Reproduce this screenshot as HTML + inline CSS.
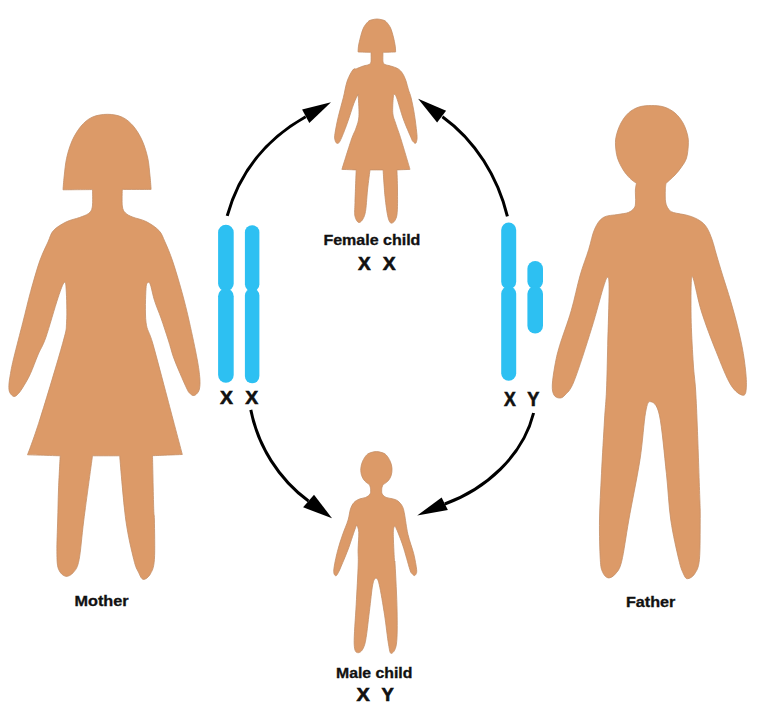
<!DOCTYPE html>
<html><head><meta charset="utf-8"><style>
html,body{margin:0;padding:0;background:#fff;}
svg{display:block;}
text{font-family:"Liberation Sans",sans-serif;font-weight:bold;fill:#111;}
</style></head><body>
<svg width="757" height="720" viewBox="0 0 757 720">
<rect width="757" height="720" fill="#fff"/>
<g fill="#DC9A68" stroke="#C48E66" stroke-width="0.8">
<path d="M107.5 114.3C112.5 114.3 117.9 115.2 122.2 117.2C126.5 119.2 130.0 122.2 133.3 126.1C136.6 130.0 139.8 135.2 142.2 140.6C144.6 146.0 146.5 152.4 147.8 158.3C149.1 164.2 149.4 170.9 150.0 176.1C150.6 181.3 151.1 189.4 151.1 189.4C151.1 189.4 122.3 189.4 122.3 189.4C122.3 189.4 121.8 202.1 122.3 206.0C122.8 209.9 123.7 211.1 125.5 213.0C127.3 214.9 129.6 215.8 133.0 217.2C136.4 218.6 141.7 219.3 146.0 221.5C150.3 223.7 155.7 227.1 158.9 230.5C162.1 233.9 162.7 236.9 165.0 242.0C167.3 247.1 169.8 252.8 172.6 261.1C175.4 269.4 179.0 281.5 181.8 291.7C184.6 301.9 186.9 311.0 189.4 322.2C191.9 333.4 195.4 349.6 197.1 358.9C198.8 368.2 199.4 373.0 199.8 378.0C200.2 383.0 200.0 386.3 199.4 389.0C198.8 391.7 197.6 392.9 196.5 394.0C195.4 395.1 194.2 395.7 193.0 395.5C191.8 395.3 190.5 394.1 189.5 393.0C188.5 391.9 188.6 392.3 187.0 389.0C185.4 385.7 182.3 378.7 180.0 373.3C177.7 367.9 175.2 362.2 173.3 356.7C171.4 351.1 170.4 346.4 168.3 340.0C166.2 333.6 163.3 324.5 161.0 318.0C158.7 311.5 156.3 306.3 154.6 300.8C152.8 295.3 151.6 288.1 150.5 285.0C149.4 281.9 148.9 281.9 148.2 282.5C147.4 283.1 146.4 282.0 146.0 288.6C145.6 295.2 144.9 313.0 146.0 322.2C147.1 331.4 149.2 330.8 152.8 343.6C156.4 356.4 162.7 380.5 167.6 399.0C172.5 417.5 182.3 454.5 182.3 454.5C182.3 454.5 152.5 455.7 152.5 455.7C152.5 455.7 153.4 497.6 153.7 508.3C154.0 519.0 154.3 511.4 154.4 520.0C154.5 528.5 155.1 550.6 154.4 559.6C153.7 568.6 152.2 570.6 150.4 573.9C148.6 577.2 145.3 579.7 143.3 579.4C141.3 579.1 140.1 575.6 138.5 572.3C136.9 569.0 135.9 568.3 133.8 559.6C131.7 550.9 128.2 537.3 125.8 520.0C123.4 502.7 119.7 455.8 119.7 455.8C119.7 455.8 92.5 455.8 92.5 455.8C92.5 455.8 86.0 502.7 83.8 520.0C81.6 537.3 80.8 550.9 79.1 559.6C77.4 568.3 75.8 569.5 73.5 572.3C71.2 575.1 68.1 576.8 65.6 576.3C63.1 575.8 60.0 573.2 58.5 569.1C57.0 565.0 57.0 559.9 56.9 551.7C56.8 543.5 57.4 530.3 57.7 520.0C58.0 509.7 58.1 500.7 58.5 490.0C58.9 479.3 60.2 455.8 60.2 455.8C60.2 455.8 27.5 454.8 27.5 454.8C27.5 454.8 33.9 438.5 39.7 420.0C45.6 401.5 58.1 359.9 62.6 343.6C67.1 327.3 66.0 330.9 66.6 322.0C67.2 313.1 66.6 296.6 66.2 290.0C65.8 283.4 65.6 281.2 64.2 282.5C62.8 283.8 61.1 288.6 58.0 297.8C54.9 307.0 49.1 328.0 45.8 337.5C42.4 347.0 40.4 349.0 37.9 355.0C35.4 361.0 32.8 368.4 30.5 373.5C28.2 378.6 26.0 382.2 24.0 385.5C22.0 388.8 20.2 391.7 18.5 393.5C16.8 395.3 15.3 396.7 13.9 396.5C12.5 396.3 10.6 394.3 9.8 392.5C9.0 390.7 8.8 388.7 8.9 385.5C9.0 382.3 9.7 378.2 10.5 373.5C11.3 368.8 11.9 365.6 14.0 357.0C16.1 348.4 20.1 333.1 22.9 322.2C25.7 311.3 27.8 301.9 30.6 291.7C33.4 281.5 36.8 269.4 39.7 261.1C42.6 252.8 45.7 247.1 48.0 242.0C50.3 236.9 50.5 233.8 53.5 230.5C56.5 227.2 61.7 224.2 66.0 222.0C70.3 219.8 75.8 218.9 79.5 217.5C83.2 216.1 86.4 215.2 88.5 213.5C90.6 211.8 91.6 211.0 92.3 207.0C93.0 203.0 92.5 189.6 92.5 189.6C92.5 189.6 63.0 189.8 63.0 189.8C63.0 189.8 63.6 181.3 64.2 176.1C64.8 170.8 65.3 164.2 66.6 158.3C67.9 152.4 69.8 146.0 72.2 140.6C74.6 135.2 77.8 130.0 81.1 126.1C84.4 122.2 87.8 119.2 92.2 117.2C96.6 115.2 102.5 114.3 107.5 114.3Z"/>
<path d="M651.5 105.6C655.7 105.6 660.1 105.8 664.0 107.0C667.9 108.2 671.8 110.3 675.0 113.0C678.2 115.7 680.9 119.3 683.0 123.0C685.1 126.7 686.6 131.3 687.5 135.0C688.4 138.7 688.5 141.2 688.3 145.0C688.1 148.8 687.6 154.4 686.5 158.0C685.4 161.6 683.6 163.9 681.7 166.7C679.8 169.5 677.6 172.2 675.0 175.0C672.4 177.8 666.0 183.3 666.0 183.3C666.0 183.3 665.4 186.9 665.3 190.0C665.2 193.1 665.1 198.8 665.6 202.0C666.1 205.2 667.2 207.2 668.5 209.0C669.8 210.8 670.1 211.4 673.5 212.5C676.9 213.6 684.2 214.3 688.6 215.7C693.0 217.0 696.7 218.6 699.7 220.6C702.7 222.6 704.6 224.3 706.7 227.5C708.8 230.7 710.6 235.4 712.2 240.0C713.8 244.6 714.8 249.2 716.5 255.0C718.2 260.8 720.1 267.2 722.5 275.0C724.9 282.8 728.0 292.0 730.8 301.6C733.6 311.2 736.9 323.2 739.1 332.9C741.4 342.6 743.1 351.3 744.3 360.0C745.5 368.7 746.6 379.0 746.4 384.9C746.2 390.8 745.9 395.3 743.3 395.3C740.7 395.3 735.3 392.2 730.8 384.9C726.3 377.6 721.1 363.8 716.2 351.6C711.3 339.5 705.4 324.1 701.6 312.0C697.8 299.9 695.0 283.4 693.3 278.7C691.6 274.0 691.6 276.7 691.2 284.0C690.9 291.3 690.9 309.1 691.2 322.4C691.6 335.7 692.6 352.7 693.3 364.0C694.0 375.3 694.9 378.7 695.6 390.0C696.3 401.3 696.8 413.2 697.5 431.7C698.2 450.2 699.4 486.3 699.9 501.0C700.4 515.7 700.3 510.2 700.2 520.0C700.1 529.8 700.3 550.6 699.4 559.6C698.5 568.6 696.6 570.7 694.6 573.9C692.6 577.1 689.4 578.7 687.5 578.7C685.6 578.7 685.0 577.1 683.5 573.9C682.0 570.7 680.9 568.6 678.8 559.6C676.7 550.6 672.9 534.4 670.8 520.0C668.7 505.6 668.3 490.8 666.4 473.3C664.5 455.8 662.0 426.9 659.4 415.0C656.8 403.1 652.9 402.2 650.6 401.7C648.3 401.2 647.4 402.6 645.6 412.2C643.8 421.8 642.8 441.4 640.0 459.4C637.2 477.4 631.8 503.0 628.8 520.0C625.8 537.0 623.9 552.2 621.7 561.2C619.5 570.2 617.6 571.1 615.4 573.9C613.1 576.7 610.3 578.2 608.2 577.9C606.1 577.6 604.0 575.3 602.7 572.3C601.4 569.2 600.8 568.3 600.3 559.6C599.8 550.9 599.3 534.4 599.5 520.0C599.7 505.6 600.7 490.0 601.5 473.3C602.3 456.6 603.7 433.9 604.5 420.0C605.3 406.1 606.0 402.4 606.5 390.0C607.0 377.6 607.3 362.5 607.7 345.8C608.1 329.1 609.1 301.4 609.1 290.0C609.1 278.6 608.7 277.7 607.7 277.3C606.7 276.9 606.0 279.0 603.3 287.5C600.6 296.0 596.5 312.8 591.6 328.3C586.8 343.9 578.6 369.7 574.2 380.8C569.8 391.9 567.5 392.1 565.0 395.0C562.5 397.9 561.3 398.0 559.5 398.0C557.7 398.0 555.2 397.2 554.0 395.0C552.8 392.8 552.1 390.0 552.3 385.0C552.5 380.0 553.8 371.5 555.0 365.0C556.2 358.5 556.9 354.8 559.6 345.8C562.3 336.8 567.8 322.5 571.2 310.8C574.6 299.1 577.1 286.0 580.0 275.8C582.9 265.6 586.3 257.4 588.7 249.6C591.1 241.8 592.2 234.5 594.6 229.2C597.0 223.8 599.4 219.9 603.3 217.5C607.2 215.1 613.7 215.3 617.9 214.5C622.1 213.7 625.6 213.6 628.3 212.5C631.0 211.4 633.0 209.8 634.2 208.0C635.4 206.2 635.4 205.0 635.6 202.0C635.8 199.0 635.2 193.1 635.4 190.0C635.5 186.9 636.5 183.3 636.5 183.3C636.5 183.3 632.2 180.5 630.0 178.3C627.8 176.1 625.4 173.4 623.3 170.0C621.2 166.6 618.8 162.2 617.5 158.0C616.2 153.8 615.7 148.8 615.5 145.0C615.3 141.2 615.6 138.7 616.5 135.0C617.4 131.3 619.0 126.7 621.0 123.0C623.0 119.3 625.5 115.7 628.5 113.0C631.5 110.3 635.2 108.2 639.0 107.0C642.8 105.8 647.3 105.6 651.5 105.6Z"/>
<path d="M377.0 19.0C378.7 19.0 380.5 19.4 382.0 19.8C383.5 20.2 384.7 20.3 386.1 21.7C387.5 23.1 389.4 25.5 390.6 28.1C391.8 30.7 392.6 34.1 393.4 37.1C394.2 40.1 394.8 43.6 395.2 46.1C395.6 48.6 395.6 52.0 395.6 52.0C395.6 52.0 383.0 52.3 383.0 52.3C383.0 52.3 382.7 59.5 383.0 61.5C383.3 63.5 383.7 63.8 385.0 64.5C386.3 65.2 388.5 65.3 390.6 66.0C392.8 66.7 395.9 67.5 397.9 68.7C399.9 69.9 401.0 71.2 402.4 73.2C403.8 75.2 405.0 78.2 406.0 81.0C407.0 83.8 407.6 87.2 408.5 90.0C409.4 92.8 410.1 93.7 411.1 97.8C412.1 101.9 413.5 108.7 414.4 114.4C415.3 120.1 416.3 128.1 416.7 132.2C417.1 136.3 417.2 137.2 417.0 139.0C416.8 140.8 416.3 142.9 415.6 143.3C414.9 143.7 413.8 142.4 413.0 141.5C412.2 140.6 412.7 141.6 411.1 137.8C409.5 134.0 405.7 125.6 403.3 118.9C400.9 112.2 398.2 101.9 396.7 97.8C395.2 93.7 395.0 94.5 394.4 94.4C393.8 94.3 393.6 93.8 393.3 97.0C393.0 100.2 392.4 108.9 392.8 113.3C393.2 117.7 394.2 118.8 395.6 123.3C397.0 127.8 398.9 132.3 401.2 140.0C403.6 147.7 410.0 169.4 410.0 169.4C410.0 169.4 396.9 169.9 396.9 169.9C396.9 169.9 397.5 182.5 397.5 190.0C397.5 197.5 397.8 209.5 396.9 215.0C396.0 220.5 393.4 222.7 391.9 223.1C390.4 223.5 389.2 222.0 388.1 217.5C387.0 213.0 385.8 204.2 385.0 196.2C384.2 188.3 383.1 169.9 383.1 169.9C383.1 169.9 370.0 169.9 370.0 169.9C370.0 169.9 368.3 182.7 367.5 190.0C366.7 197.3 366.4 208.3 365.0 213.8C363.6 219.2 361.1 222.1 359.4 222.5C357.7 222.9 355.7 219.6 355.0 216.2C354.3 212.9 354.8 210.2 355.0 202.5C355.2 194.8 356.2 169.9 356.2 169.9C356.2 169.9 341.9 169.4 341.9 169.4C341.9 169.4 348.9 146.9 351.2 140.0C353.6 133.1 354.8 131.9 356.1 128.0C357.4 124.1 358.5 121.9 358.9 116.7C359.3 111.5 358.5 100.6 358.3 97.0C358.1 93.4 358.5 94.0 357.8 95.0C357.1 96.0 355.7 98.6 353.9 103.3C352.1 108.0 349.5 117.0 347.2 123.3C344.9 129.6 341.8 137.8 340.0 141.1C338.2 144.4 337.4 143.3 336.5 143.0C335.6 142.7 335.1 140.6 334.8 139.0C334.6 137.4 334.4 137.0 335.0 133.3C335.6 129.6 336.9 122.6 338.3 116.7C339.7 110.8 341.8 103.7 343.3 97.8C344.8 91.9 345.6 85.7 347.2 81.1C348.8 76.5 351.2 72.1 352.8 70.0C354.4 67.9 354.7 69.4 356.5 68.7C358.3 68.0 361.3 66.7 363.4 66.0C365.5 65.3 367.7 65.2 369.0 64.5C370.3 63.8 370.7 63.5 371.0 61.5C371.3 59.5 371.0 52.3 371.0 52.3C371.0 52.3 358.1 52.0 358.1 52.0C358.1 52.0 358.1 48.6 358.5 46.1C358.9 43.6 359.7 40.1 360.5 37.1C361.3 34.1 362.1 30.7 363.4 28.1C364.6 25.5 366.6 23.1 368.0 21.7C369.4 20.3 370.5 20.2 372.0 19.8C373.5 19.4 375.3 19.0 377.0 19.0Z"/>
<path d="M376.4 451.6C378.3 451.6 380.4 452.1 382.0 452.6C383.6 453.2 384.7 453.4 386.1 454.9C387.5 456.3 389.2 459.0 390.2 461.3C391.2 463.6 391.9 466.1 392.0 468.5C392.1 470.9 391.8 473.6 391.1 475.7C390.4 477.8 389.2 479.6 387.9 481.1C386.5 482.6 383.0 484.7 383.0 484.7C383.0 484.7 381.9 486.9 381.8 488.4C381.7 489.9 381.4 492.3 382.1 493.8C382.8 495.3 384.4 496.6 386.1 497.4C387.8 498.2 390.5 498.2 392.5 498.8C394.5 499.4 396.2 499.7 397.9 501.0C399.5 502.3 401.3 504.2 402.4 506.4C403.5 508.6 403.6 509.4 404.5 514.0C405.4 518.6 406.4 527.7 407.9 534.3C409.4 540.9 412.2 547.9 413.7 553.7C415.1 559.5 416.2 565.9 416.6 569.3C417.0 572.7 416.4 573.0 416.0 574.0C415.6 575.0 414.9 575.7 414.2 575.5C413.4 575.3 412.2 574.0 411.5 573.0C410.8 572.0 411.2 573.8 409.8 569.3C408.4 564.8 405.2 552.7 403.0 546.0C400.8 539.3 397.9 532.2 396.5 529.0C395.1 525.8 394.8 525.7 394.3 526.6C393.8 527.5 393.3 528.7 393.3 534.3C393.3 539.9 394.1 554.9 394.4 560.0C394.7 565.1 394.7 556.5 395.1 565.0C395.6 573.5 396.9 598.0 397.1 611.2C397.3 624.4 397.4 637.1 396.4 644.1C395.4 651.1 392.5 653.4 391.2 653.4C389.9 653.4 389.6 650.5 388.5 644.1C387.4 637.7 386.1 625.0 384.6 615.1C383.1 605.2 380.7 590.9 379.3 584.8C377.9 578.6 377.1 578.2 376.0 578.2C374.9 578.2 373.8 579.3 372.7 584.8C371.6 590.3 370.7 601.3 369.4 611.2C368.1 621.1 366.7 637.2 364.8 644.1C362.9 651.0 360.0 652.7 358.2 652.7C356.4 652.7 354.5 652.1 354.2 644.1C353.9 636.1 355.5 617.8 356.2 604.6C356.9 591.4 357.9 574.1 358.2 565.0C358.5 555.9 358.0 555.4 358.1 550.0C358.2 544.6 358.9 536.6 358.8 532.5C358.6 528.4 357.4 526.4 356.9 525.6C356.4 524.8 357.0 523.9 355.6 527.5C354.2 531.1 351.1 541.0 348.8 547.5C346.4 554.0 343.1 561.8 341.2 566.2C339.4 570.7 338.5 572.4 337.5 574.0C336.5 575.6 335.9 576.3 335.3 575.6C334.7 574.9 333.4 574.1 333.8 570.0C334.1 565.9 336.0 557.1 337.5 551.2C339.0 545.4 340.7 540.2 342.5 535.0C344.3 529.8 346.8 524.3 348.1 520.0C349.4 515.7 349.5 511.9 350.5 509.0C351.5 506.1 352.5 504.2 354.0 502.5C355.5 500.8 357.5 499.9 359.5 499.0C361.5 498.1 364.0 498.3 365.8 497.4C367.6 496.5 369.4 495.3 370.2 493.8C371.0 492.3 370.6 489.9 370.5 488.4C370.4 486.9 369.5 484.7 369.5 484.7C369.5 484.7 366.2 482.6 364.9 481.1C363.6 479.6 362.4 477.8 361.7 475.7C361.0 473.6 360.6 470.9 360.8 468.5C361.0 466.1 361.6 463.6 362.6 461.3C363.6 459.0 365.3 456.3 366.7 454.9C368.1 453.4 369.2 453.2 370.8 452.6C372.4 452.1 374.5 451.6 376.4 451.6Z"/>
</g>
<g fill="#2DC0F2"><rect x="218.1" y="224.7" width="15.6" height="66.7" rx="7.8"/><rect x="218.1" y="288.4" width="15.6" height="94.4" rx="7.8"/><rect x="244.9" y="225.2" width="14.5" height="66.2" rx="7.2"/><rect x="244.9" y="288.4" width="14.5" height="94.9" rx="7.2"/><rect x="501.2" y="222.6" width="15.0" height="66.7" rx="7.5"/><rect x="501.2" y="286.3" width="15.0" height="94.5" rx="7.5"/><rect x="527.4" y="261.0" width="15.6" height="28.3" rx="7.8"/><rect x="527.4" y="286.3" width="15.6" height="47.3" rx="7.8"/></g>
<g fill="#000"><path d="M227.2 215.9 C239.1 173.0 264.9 139.8 305.7 116.8" fill="none" stroke="#000" stroke-width="3"/><polygon points="331.0,102.2 302.1,109.4 309.3,123.0"/><path d="M507.4 216.3 C497.8 177.2 475.6 140.6 442.4 116.7" fill="none" stroke="#000" stroke-width="3"/><polygon points="418.1,98.7 446.1,110.8 437.1,122.5"/><path d="M250.8 409.9 C258.0 446.1 278.8 479.2 308.5 501.0" fill="none" stroke="#000" stroke-width="3"/><polygon points="332.0,518.2 303.1,507.3 314.0,494.7"/><path d="M533.6 413.0 C522.8 456.2 485.6 489.2 444.8 504.0" fill="none" stroke="#000" stroke-width="3"/><polygon points="417.2,515.5 441.6,497.5 447.9,510.1"/></g>
<g><text x="323.4" y="244.8" font-size="14.0" textLength="97.0" lengthAdjust="spacingAndGlyphs" stroke="#111" stroke-width="0.30">Female child</text><text x="336.0" y="678.1" font-size="14.0" textLength="76.4" lengthAdjust="spacingAndGlyphs" stroke="#111" stroke-width="0.30">Male child</text><text x="74.5" y="605.5" font-size="14.0" textLength="54.1" lengthAdjust="spacingAndGlyphs" stroke="#111" stroke-width="0.30">Mother</text><text x="626.0" y="606.5" font-size="14.0" textLength="49.4" lengthAdjust="spacingAndGlyphs" stroke="#111" stroke-width="0.30">Father</text><text x="358.0" y="270.0" font-size="18.8" textLength="12.7" lengthAdjust="spacingAndGlyphs" stroke="#111" stroke-width="0.6">X</text><text x="382.8" y="270.0" font-size="18.8" textLength="12.9" lengthAdjust="spacingAndGlyphs" stroke="#111" stroke-width="0.6">X</text><text x="219.9" y="403.9" font-size="19.2" textLength="13.0" lengthAdjust="spacingAndGlyphs" stroke="#111" stroke-width="0.6">X</text><text x="245.2" y="403.9" font-size="19.2" textLength="13.0" lengthAdjust="spacingAndGlyphs" stroke="#111" stroke-width="0.6">X</text><text x="503.9" y="405.5" font-size="20.2" textLength="11.8" lengthAdjust="spacingAndGlyphs" stroke="#111" stroke-width="0.6">X</text><text x="527.3" y="405.5" font-size="20.2" textLength="12.1" lengthAdjust="spacingAndGlyphs" stroke="#111" stroke-width="0.6">Y</text><text x="356.5" y="700.7" font-size="18.1" textLength="13.3" lengthAdjust="spacingAndGlyphs" stroke="#111" stroke-width="0.6">X</text><text x="381.5" y="700.7" font-size="18.1" textLength="12.3" lengthAdjust="spacingAndGlyphs" stroke="#111" stroke-width="0.6">Y</text></g>
</svg>
</body></html>
